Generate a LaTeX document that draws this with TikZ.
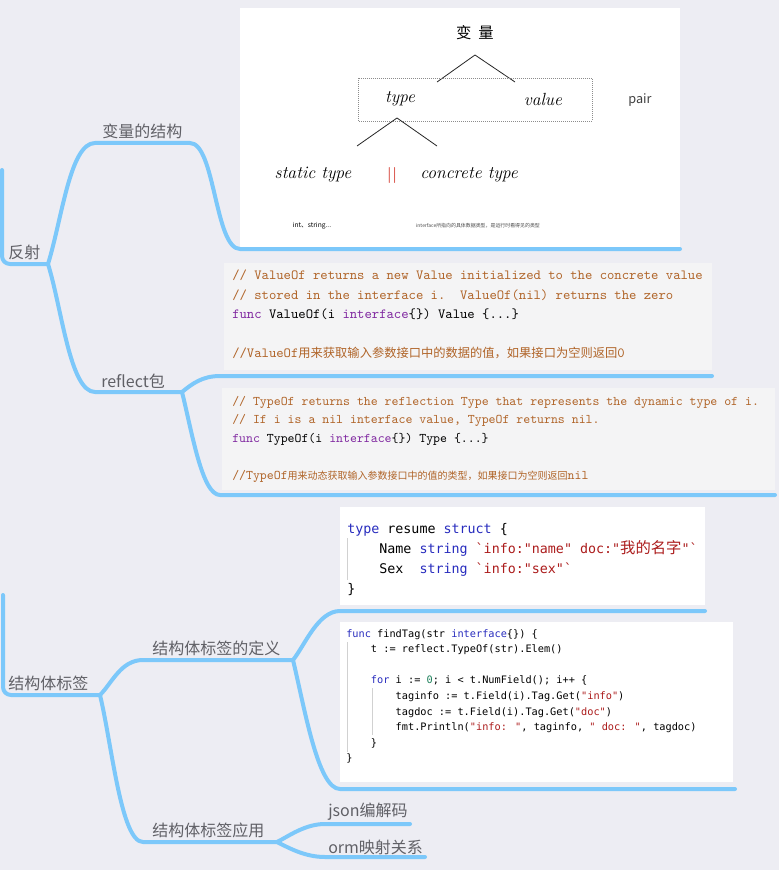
\documentclass[tikz,border=0pt]{standalone}
\usepackage{fontspec}
\newfontfamily\cjk{Noto Sans CJK SC}
\newfontfamily\menlo{DejaVu Sans Mono}
\usepackage{tikz}
\definecolor{pagebg}{RGB}{237,237,243}
\definecolor{mmblue}{RGB}{124,200,250}
\definecolor{topicgray}{RGB}{96,96,102}
\definecolor{codebg}{RGB}{244,244,245}
\definecolor{cmtbrown}{RGB}{176,100,40}
\definecolor{kwpurple}{RGB}{128,40,160}
\definecolor{kwblue}{RGB}{40,44,190}
\definecolor{strred}{RGB}{172,28,28}
\definecolor{numgreen}{RGB}{28,128,90}
\definecolor{barred}{RGB}{218,86,76}
\tikzset{
  branch/.style={line width=3pt, draw=mmblue, line cap=round, line join=round},
  topiclabel/.style={anchor=west, inner sep=0pt, text=topicgray, font=\cjk\fontsize{12}{14}\selectfont},
  codetext/.style={anchor=north west, inner sep=0pt, align=left},
  guideline/.style={line width=0.5pt, draw=black!18},
  sketchline/.style={line width=0.6pt, draw=black!85},
  sketchword/.style={inner sep=0pt, font=\itshape\fontsize{13.2}{15}\selectfont},
}

\begin{document}
\begin{tikzpicture}[x=0.75pt,y=-0.75pt]
\useasboundingbox (0,0) rectangle (779,870);
\fill[pagebg] (0,0) rectangle (779,870);

% picture of the variable structure
\fill[white] (240,8) rectangle (680,247);
\node[inner sep=0pt, font=\cjk\fontsize{11.5}{13}\selectfont] (bianliang) at (475,33) {变\hspace{0.45em}量};
\coordinate (apex) at (475,55);
\draw[sketchline] (apex) -- (437,82);
\draw[sketchline] (apex) -- (515,82);
\draw[black!45, densely dotted, line width=0.5pt] (358,78) rectangle (592,121);
\node[sketchword] (typeword) at (400,99) {type};
\node[sketchword] (valueword) at (543,99) {value};
\node[inner sep=0pt, text=black!75, font=\cjk\fontsize{9.5}{11}\selectfont] (pair) at (640,100) {pair};
\coordinate (typefork) at (397,118);
\draw[sketchline] (typefork) -- (357,146);
\draw[sketchline] (typefork) -- (437,146);
\node[sketchword] (statictype) at (313,175) {static type};
\node[inner sep=0pt, text=barred, font=\sffamily\bfseries\fontsize{12}{14}\selectfont] (bars) at (392,175) {||};
\node[sketchword] (concretetype) at (469,175) {concrete type};
\node[inner sep=0pt, font=\cjk\fontsize{5}{6}\selectfont] (intstring) at (312,226) {int、string...};
\node[inner sep=0pt, text=black!70, font=\cjk\fontsize{3.7}{4}\selectfont] (concretenote) at (478,226) {interface所指向的具体数据类型，是运行时看得见的类型};

% code blocks of reflect
\fill[codebg] (224,263) rectangle (712,370);
\node[codetext, font=\ttfamily\fontsize{10.5}{14.5}\selectfont] (valueof) at (232,270) {%
\textcolor{cmtbrown}{// ValueOf returns a new Value initialized to the concrete value}\\
\textcolor{cmtbrown}{// stored in the interface i.\ \ ValueOf(nil) returns the zero}\\
\textcolor{kwpurple}{func} ValueOf(i \textcolor{kwpurple}{interface}\{\}) Value \{...\}\\[14.5pt]
\textcolor{cmtbrown}{//ValueOf{\cjk\fontsize{9.2}{14.5}\selectfont 用来获取输入参数接口中的数据的值，如果接口为空则返回}0}};

\fill[codebg] (222,388) rectangle (775,490);
\node[codetext, font=\ttfamily\fontsize{9.9}{13.9}\selectfont] (typeof) at (232,396) {%
\textcolor{cmtbrown}{// TypeOf returns the reflection Type that represents the dynamic type of i.}\\
\textcolor{cmtbrown}{// If i is a nil interface value, TypeOf returns nil.}\\
\textcolor{kwpurple}{func} TypeOf(i \textcolor{kwpurple}{interface}\{\}) Type \{...\}\\[13.9pt]
\textcolor{cmtbrown}{//TypeOf{\cjk\fontsize{7.5}{13.9}\selectfont 用来动态获取输入参数接口中的值的类型，如果接口为空则返回}nil}};

% code blocks of struct tags
\fill[white] (340,507) rectangle (705,605);
\draw[guideline] (347,538) -- (347,580);
\node[codetext, font=\menlo\fontsize{10}{15}\selectfont] (resume) at (347,523) {%
\textcolor{kwblue}{type} resume \textcolor{kwblue}{struct} \{\\
\hspace*{4\fontcharwd\font`0}Name \textcolor{kwblue}{string} \textcolor{strred}{`info:"name" doc:"{\cjk\fontsize{11.5}{15}\selectfont 我的名字}"`}\\
\hspace*{4\fontcharwd\font`0}Sex\ \ \textcolor{kwblue}{string} \textcolor{strred}{`info:"sex"`}\\
\}};

\fill[white] (340,622) rectangle (733,782);
\draw[guideline] (347,642) -- (347,752);
\draw[guideline] (372,688) -- (372,735);
\node[codetext, font=\menlo\fontsize{7.7}{11.7}\selectfont] (findtag) at (346,629) {%
\textcolor{kwblue}{func} findTag(str \textcolor{kwblue}{interface}\{\}) \{\\
\hspace*{4\fontcharwd\font`0}t := reflect.TypeOf(str).Elem()\\[11.7pt]
\hspace*{4\fontcharwd\font`0}\textcolor{kwblue}{for} i := \textcolor{numgreen}{0}; i < t.NumField(); i++ \{\\
\hspace*{8\fontcharwd\font`0}taginfo := t.Field(i).Tag.Get(\textcolor{strred}{"info"})\\
\hspace*{8\fontcharwd\font`0}tagdoc := t.Field(i).Tag.Get(\textcolor{strred}{"doc"})\\
\hspace*{8\fontcharwd\font`0}fmt.Println(\textcolor{strred}{"info: "}, taginfo, \textcolor{strred}{" doc: "}, tagdoc)\\
\hspace*{4\fontcharwd\font`0}\}\\
\}};

% mind map: reflection
\coordinate (rootone) at (2,170);
\coordinate (fanshej) at (48,264);
\coordinate (reflectj) at (182,392);
\draw[branch, rounded corners=6pt] (rootone) -- (2,264) -- (fanshej);
\draw[branch] (fanshej) .. controls +(14,-45) and +(-25,0) .. (95,143) -- (190,143)
  .. controls +(25,0) and +(-25,0) .. (240,249) -- (680,249);
\draw[branch] (fanshej) .. controls +(14,45) and +(-25,0) .. (95,392) -- (reflectj);
\draw[branch] (reflectj) .. controls +(10,-8) and +(-18,0) .. (220,376) -- (712,376);
\draw[branch] (reflectj) .. controls +(10,40) and +(-18,0) .. (220,495) -- (775,495);
\node[topiclabel] (fanshe) at (8,252) {反射};
\node[topiclabel] (structure) at (102,131) {变量的结构};
\node[topiclabel] (reflectpkg) at (101,381) {reflect包};

% mind map: struct tags
\coordinate (roottwo) at (3,595);
\coordinate (tagj) at (100,695);
\coordinate (defj) at (293,660);
\coordinate (usej) at (277,842);
\draw[branch, rounded corners=6pt] (roottwo) -- (3,695) -- (tagj);
\draw[branch] (tagj) .. controls +(12,-12) and +(-22,0) .. (143,660) -- (defj);
\draw[branch] (defj) .. controls +(12,-15) and +(-22,0) .. (340,611) -- (705,611);
\draw[branch] (defj) .. controls +(12,50) and +(-22,0) .. (340,789) -- (735,789);
\draw[branch] (tagj) .. controls +(12,50) and +(-22,0) .. (143,842) -- (usej);
\draw[branch] (usej) .. controls +(12,-6) and +(-20,0) .. (325,824) -- (410,824);
\draw[branch] (usej) .. controls +(12,6) and +(-20,0) .. (325,857) -- (425,857);
\node[topiclabel] (structtag) at (8,683) {结构体标签};
\node[topiclabel] (tagdef) at (152,648) {结构体标签的定义};
\node[topiclabel] (taguse) at (152,830) {结构体标签应用};
\node[topiclabel] (json) at (328,812) {json编解码};
\node[topiclabel] (orm) at (328,847) {orm映射关系};
\end{tikzpicture}
\end{document}
